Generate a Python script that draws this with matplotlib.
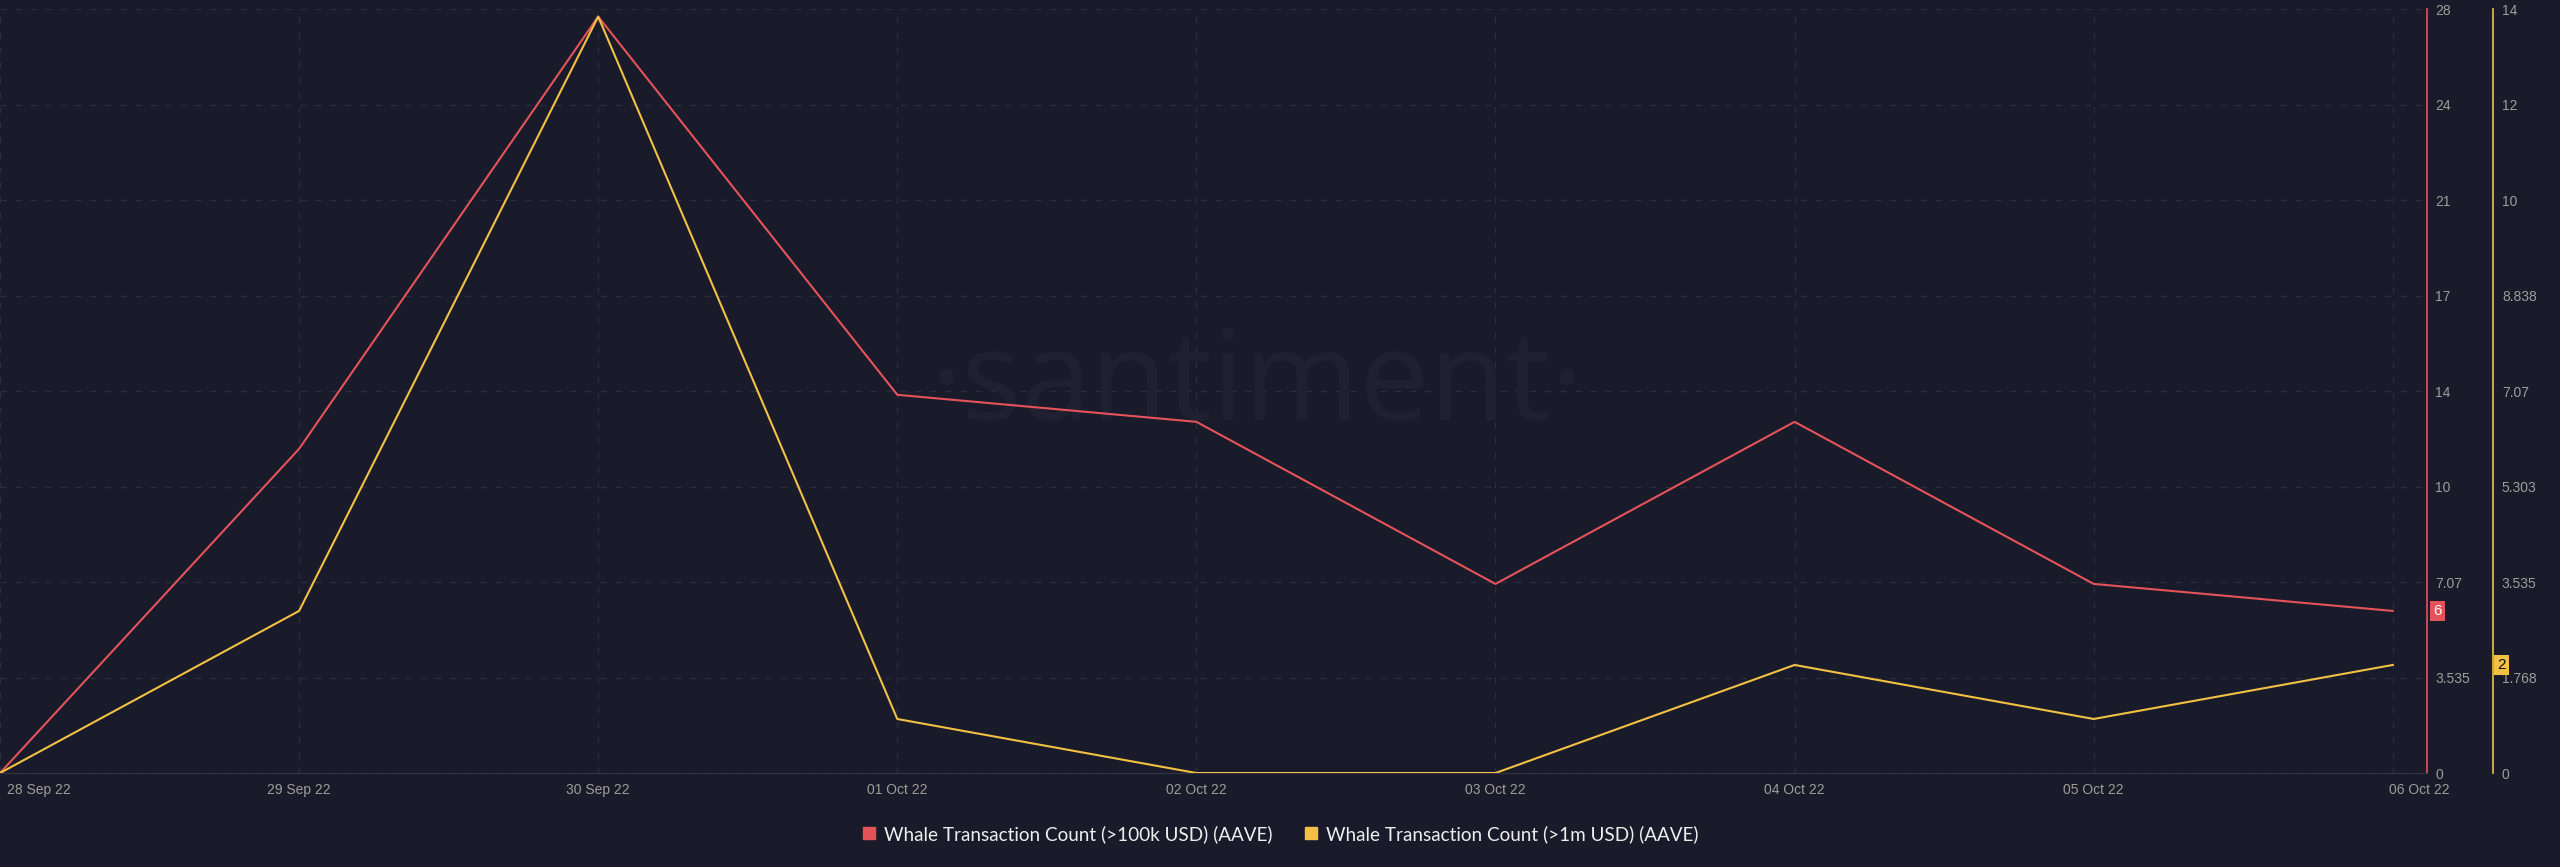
import matplotlib
matplotlib.use("Agg")
import matplotlib.pyplot as plt
from matplotlib.lines import Line2D
from matplotlib.transforms import ScaledTranslation

# Data
dates = ["28 Sep 22", "29 Sep 22", "30 Sep 22", "01 Oct 22", "02 Oct 22",
         "03 Oct 22", "04 Oct 22", "05 Oct 22", "06 Oct 22"]
whale_100k = [0, 12, 28, 14, 13, 7, 13, 7, 6]
whale_1m = [0, 3, 14, 1, 0, 0, 2, 1, 2]

red_ticks = ["0", "3.535", "7.07", "10", "14", "17", "21", "24", "28"]
yellow_ticks = ["0", "1.768", "3.535", "5.303", "7.07", "8.838", "10", "12", "14"]

RED = "#e5535a"
YELLOW = "#f2c144"
BG = "#191b2b"
TXT = "#a09c98"
GRID = "#2c2e40"

plt.rcParams["font.family"] = ["Liberation Sans", "DejaVu Sans"]

fig = plt.figure(figsize=(25.6, 8.67), dpi=100, facecolor=BG)
ax = fig.add_axes([0.0, 0.1084, 0.948, 0.8812])
ax.set_facecolor(BG)
ax2 = ax.twinx()

x = list(range(len(dates)))

# watermark, kept under the lines
ax.text(0.491, 0.515, "·santiment·", transform=fig.transFigure, color="#1f2133",
        fontsize=90, family=["Open Sans", "DejaVu Sans"], ha="center", va="baseline",
        zorder=1)

ax.plot(x, whale_100k, color=RED, lw=1.5, zorder=3)
ax2.plot(x, whale_1m, color=YELLOW, lw=1.5, zorder=3)

red_max = 28.28
yel_max = 14.14
ax.set_ylim(0, red_max)
ax2.set_ylim(0, yel_max)
ax.set_xlim(0, 8.114)

n = len(red_ticks) - 1
ax.set_yticks([red_max * i / n for i in range(n + 1)])
ax.set_yticklabels(red_ticks)
ax2.set_yticks([yel_max * i / n for i in range(n + 1)])
ax2.set_yticklabels(yellow_ticks)

ax.yaxis.tick_right()
ax.tick_params(axis="y", length=0, pad=6, labelsize=10, labelcolor=TXT)
ax2.tick_params(axis="y", length=0, pad=6.5, labelsize=10, labelcolor=TXT)
for lab in ax.get_yticklabels() + ax2.get_yticklabels():
    lab.set_horizontalalignment("left")

ax.set_xticks(x)
ax.set_xticklabels(dates)
ax.tick_params(axis="x", length=0, pad=7, labelsize=10, labelcolor=TXT)
xl = ax.get_xticklabels()
xl[0].set_horizontalalignment("left")
xl[0].set_transform(xl[0].get_transform() + ScaledTranslation(0.07, 0, fig.dpi_scale_trans))
xl[-1].set_transform(xl[-1].get_transform() + ScaledTranslation(0.27, 0, fig.dpi_scale_trans))

ax.grid(True, color=GRID, linestyle=(0, (5, 7)), lw=0.9)
ax.set_axisbelow(True)

for s in ["left", "top"]:
    ax.spines[s].set_visible(False)
    ax2.spines[s].set_visible(False)
ax2.spines["bottom"].set_visible(False)
ax.spines["bottom"].set_color("#323446")
ax.spines["right"].set_color(RED)
ax.spines["right"].set_linewidth(1.2)
ax2.spines["right"].set_position(("outward", 47.5))
ax2.spines["right"].set_color(YELLOW)
ax2.spines["right"].set_linewidth(1.2)

# value badges at the last point
ax.annotate(str(whale_100k[-1]), xy=(1, whale_100k[-1]), xycoords=("axes fraction", "data"),
            xytext=(4.5, 0), textcoords="offset points", ha="left", va="center",
            fontsize=11, color="white",
            bbox=dict(boxstyle="square,pad=0.22", fc=RED, ec="none"))
ax2.annotate(str(whale_1m[-1]), xy=(1, whale_1m[-1]), xycoords=("axes fraction", "data"),
             xytext=(50.5, 0), textcoords="offset points", ha="left", va="center",
             fontsize=11, color="#111111",
             bbox=dict(boxstyle="square,pad=0.22", fc=YELLOW, ec="none"))

handles = [Line2D([], [], marker="s", ls="none", color=RED, markersize=8.6),
           Line2D([], [], marker="s", ls="none", color=YELLOW, markersize=8.6)]
labels = ["Whale Transaction Count (>100k USD) (AAVE)",
          "Whale Transaction Count (>1m USD) (AAVE)"]
fig.legend(handles, labels, loc="center", bbox_to_anchor=(0.5, 0.038), ncol=2,
           frameon=False, handlelength=0.8, handletextpad=0.4, columnspacing=1.6,
           prop={"family": ["Lato", "DejaVu Sans"], "size": 13.6}, labelcolor="#eeeeee")

fig.savefig("out.png", dpi=100, facecolor=BG)
